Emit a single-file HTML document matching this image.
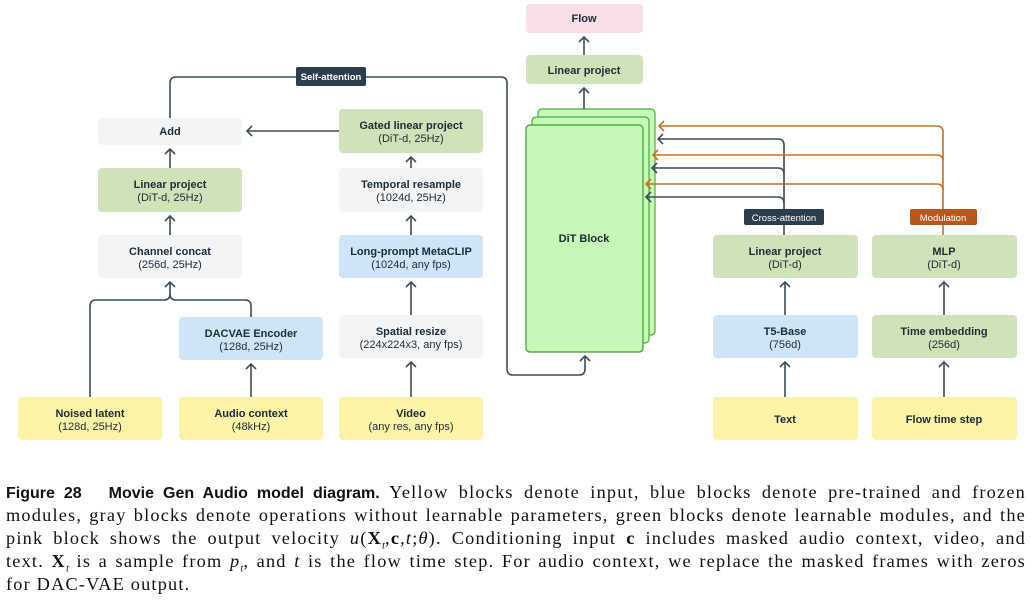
<!DOCTYPE html>
<html><head><meta charset="utf-8"><style>
body{margin:0;width:1031px;height:605px;background:#fff;overflow:hidden;position:relative;font-family:"Liberation Sans",sans-serif}
svg{position:absolute;left:0;top:0}
.cap{position:absolute;left:6px;width:1020px;font-family:"Liberation Serif",serif;font-size:18.3px;letter-spacing:1.2px;color:#111;line-height:23px;text-align:justify;text-align-last:justify;white-space:nowrap}
.cap.last{text-align-last:left}
.b{font-family:"Liberation Sans",sans-serif;font-weight:bold;font-size:16px;letter-spacing:0}
sub{font-size:11px;letter-spacing:0}
</style></head><body>
<svg width="1031" height="470" viewBox="0 0 1031 470">
<g font-family="Liberation Sans, sans-serif" font-size="11" fill="#1e2b38" text-anchor="middle">
<rect x="526" y="4" width="117" height="29" rx="4" fill="#f9dde8"/><text x="584" y="22" font-weight="bold">Flow</text>
<rect x="526" y="55" width="117" height="29" rx="4" fill="#cfe3b9"/><text x="584" y="74" font-weight="bold">Linear project</text>
<rect x="98" y="118" width="144" height="27" rx="4" fill="#f3f4f6"/><text x="170" y="135" font-weight="bold">Add</text>
<rect x="98" y="168" width="144" height="44" rx="4" fill="#cfe3b9"/><text x="170" y="188" font-weight="bold">Linear project</text><text x="170" y="201">(DiT-d, 25Hz)</text>
<rect x="98" y="235" width="144" height="43" rx="4" fill="#f3f4f6"/><text x="170" y="255" font-weight="bold">Channel concat</text><text x="170" y="268">(256d, 25Hz)</text>
<rect x="179" y="317" width="144" height="43" rx="4" fill="#cfe4f6"/><text x="251" y="337" font-weight="bold">DACVAE Encoder</text><text x="251" y="350">(128d, 25Hz)</text>
<rect x="18" y="397" width="144" height="43" rx="4" fill="#fbf3a5"/><text x="90" y="417" font-weight="bold">Noised latent</text><text x="90" y="430">(128d, 25Hz)</text>
<rect x="179" y="397" width="144" height="43" rx="4" fill="#fbf3a5"/><text x="251" y="417" font-weight="bold">Audio context</text><text x="251" y="430">(48kHz)</text>
<rect x="339" y="397" width="144" height="43" rx="4" fill="#fbf3a5"/><text x="411" y="417" font-weight="bold">Video</text><text x="411" y="430">(any res, any fps)</text>
<rect x="339" y="315" width="144" height="43" rx="4" fill="#f3f4f6"/><text x="411" y="335" font-weight="bold">Spatial resize</text><text x="411" y="348">(224x224x3, any fps)</text>
<rect x="339" y="235" width="144" height="43" rx="4" fill="#cfe4f6"/><text x="411" y="255" font-weight="bold">Long-prompt MetaCLIP</text><text x="411" y="268">(1024d, any fps)</text>
<rect x="339" y="168" width="144" height="44" rx="4" fill="#f3f4f6"/><text x="411" y="188" font-weight="bold">Temporal resample</text><text x="411" y="201">(1024d, 25Hz)</text>
<rect x="339" y="109" width="144" height="44" rx="4" fill="#cfe3b9"/><text x="411" y="129" font-weight="bold">Gated linear project</text><text x="411" y="142">(DiT-d, 25Hz)</text>
<rect x="713" y="235" width="145" height="43" rx="4" fill="#cfe3b9"/><text x="785" y="255" font-weight="bold">Linear project</text><text x="785" y="268">(DiT-d)</text>
<rect x="713" y="315" width="145" height="43" rx="4" fill="#cfe4f6"/><text x="785" y="335" font-weight="bold">T5-Base</text><text x="785" y="348">(756d)</text>
<rect x="713" y="397" width="145" height="43" rx="4" fill="#fbf3a5"/><text x="785" y="423" font-weight="bold">Text</text>
<rect x="872" y="235" width="145" height="43" rx="4" fill="#cfe3b9"/><text x="944" y="255" font-weight="bold">MLP</text><text x="944" y="268">(DiT-d)</text>
<rect x="872" y="315" width="145" height="43" rx="4" fill="#cfe3b9"/><text x="944" y="335" font-weight="bold">Time embedding</text><text x="944" y="348">(256d)</text>
<rect x="872" y="397" width="145" height="43" rx="4" fill="#fbf3a5"/><text x="944" y="423" font-weight="bold">Flow time step</text>
<rect x="538" y="109" width="117" height="226" rx="4" fill="#c6f8b8" stroke="#4caa3a" stroke-width="1.2"/>
<rect x="532" y="117" width="117" height="226" rx="4" fill="#c6f8b8" stroke="#4caa3a" stroke-width="1.2"/>
<rect x="526" y="125" width="117" height="227" rx="4" fill="#c6f8b8" stroke="#3f9a2e" stroke-width="1.2"/>
<text x="584" y="242" font-weight="bold">DiT Block</text>
</g>
<g fill="none" stroke="#3c4d5c" stroke-width="1.6">
<path d="M584 55V37M579 42l5-5 5 5"/>
<path d="M584 109V88M579 93l5-5 5 5"/>
<path d="M170 168V149M165 154l5-5 5 5"/>
<path d="M170 235V216M165 221l5-5 5 5"/>
<path d="M90 397V306q0-6 6-6h68q6 0 6-6V282M165 287l5-5 5 5M170 294q0 6 6 6h69q6 0 6 6v11"/>
<path d="M251 397V364M246 369l5-5 5 5"/>
<path d="M411 397V362M406 367l5-5 5 5"/>
<path d="M411 315V282M406 287l5-5 5 5"/>
<path d="M411 235V216M406 221l5-5 5 5"/>
<path d="M411 168V157M406 162l5-5 5 5"/>
<path d="M339 131H247M252 126l-5 5 5 5"/>
<path d="M785 397V362M780 367l5-5 5 5"/>
<path d="M785 315V282M780 287l5-5 5 5"/>
<path d="M944 397V362M939 367l5-5 5 5"/>
<path d="M944 315V282M939 287l5-5 5 5"/>
<path d="M170 118V83q0-6 6-6h325q6 0 6 6v286q0 6 6 6h66q6 0 6-6V356M580 361l5-5 5 5"/>
<path d="M784 235V145q0-6-6-6H658M663 134l-5 5 5 5"/>
<path d="M784 174q0-6-6-6H652M657 163l-5 5 5 5"/>
<path d="M784 203q0-6-6-6H646M651 192l-5 5 5 5"/>
</g>
<g fill="none" stroke="#c9701f" stroke-width="1.6">
<path d="M943 235V132q0-6-6-6H659M664 121l-5 5 5 5"/>
<path d="M943 161q0-6-6-6H653M658 150l-5 5 5 5"/>
<path d="M943 190q0-6-6-6H646M651 179l-5 5 5 5"/>
</g>
<g font-family="Liberation Sans, sans-serif" font-size="9.5" font-weight="bold" fill="#fff" text-anchor="middle">
<rect x="296" y="67" width="70" height="19" rx="2" fill="#2c3d4c"/><text x="331" y="80">Self-attention</text>
<rect x="744" y="209" width="80" height="16" rx="2" fill="#2c3d4c"/><text x="784" y="221" font-weight="normal">Cross-attention</text>
<rect x="910" y="209" width="67" height="16" rx="2" fill="#b9561c"/><text x="943" y="221" font-weight="normal">Modulation</text>
</g>
</svg>
<div class="cap" style="top:481px"><span class="b">Figure 28&nbsp;&nbsp; Movie Gen Audio model diagram.</span> Yellow blocks denote input, blue blocks denote pre-trained and frozen</div>
<div class="cap" style="top:504px">modules, gray blocks denote operations without learnable parameters, green blocks denote learnable modules, and the</div>
<div class="cap" style="top:527px">pink block shows the output velocity <i>u</i>(<b>X</b><sub><i>t</i></sub>,<b>c</b>,<i>t</i>;<i>θ</i>). Conditioning input <b>c</b> includes masked audio context, video, and</div>
<div class="cap" style="top:550px">text. <b>X</b><sub><i>t</i></sub> is a sample from <i>p</i><sub><i>t</i></sub>, and <i>t</i> is the flow time step. For audio context, we replace the masked frames with zeros</div>
<div class="cap last" style="top:573px">for DAC-VAE output.</div>
</body></html>
